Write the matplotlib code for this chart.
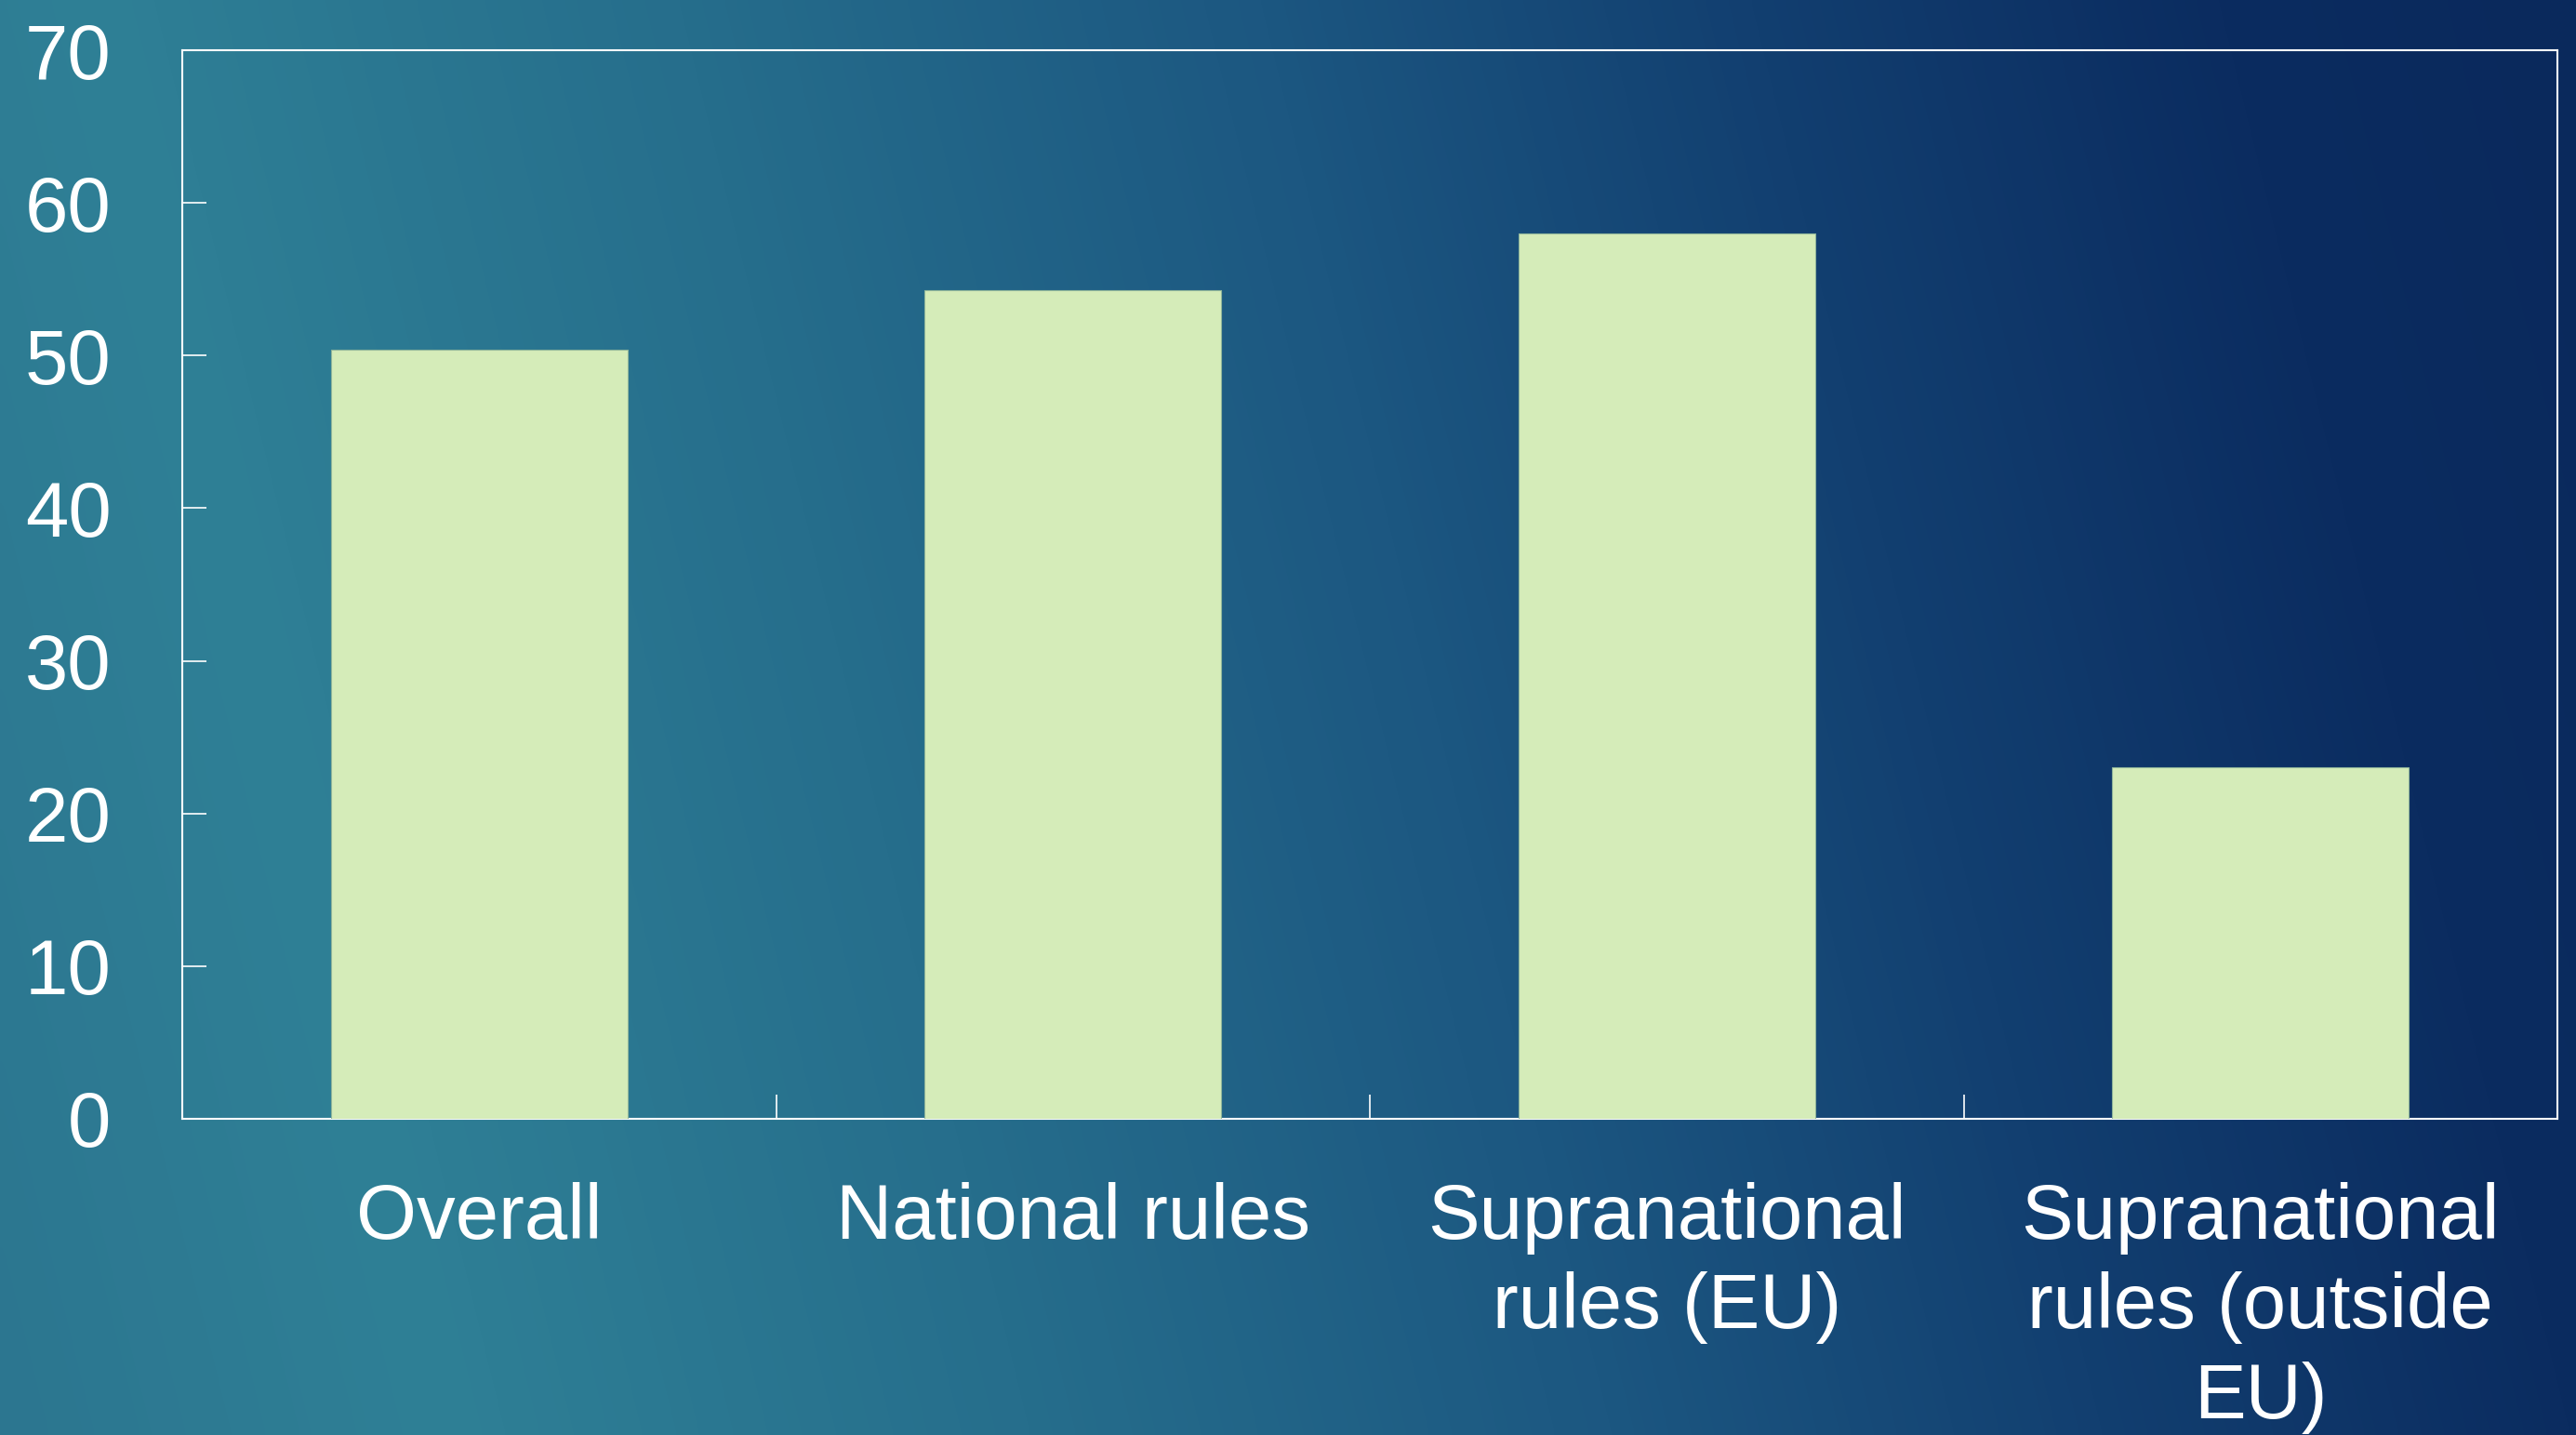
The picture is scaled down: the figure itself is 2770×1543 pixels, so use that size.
import numpy as np
import matplotlib
matplotlib.use("Agg")
import matplotlib.pyplot as plt
from matplotlib.colors import LinearSegmentedColormap

categories = ["Overall", "National rules", "Supranational\nrules (EU)",
              "Supranational\nrules (outside\nEU)"]
values = [50.4, 54.3, 58.0, 23.0]
y_ticks = [0, 10, 20, 30, 40, 50, 60, 70]

plt.rcParams["font.family"] = ["Liberation Sans", "DejaVu Sans"]

W, H, DPI = 2770, 1543, 100
fig = plt.figure(figsize=(W / DPI, H / DPI), dpi=DPI)

# background gradient: teal on the left to navy on the right
bg = fig.add_axes([0, 0, 1, 1], zorder=-10)
bg.set_axis_off()
xx, yy = np.meshgrid(np.linspace(0, 1, 400), np.linspace(0, 1, 220))
t = np.clip(0.88 * xx + 0.12 * (1 - yy), 0, 1)  # yy=0 at top (imshow origin upper)
cmap = LinearSegmentedColormap.from_list(
    "bg",
    [(0.0, "#2c7690"), (0.15, "#2f8096"), (0.35, "#266e8c"),
     (0.55, "#1c5781"), (0.72, "#123f70"), (0.88, "#0b2c60"), (1.0, "#0a295c")],
)
bg.imshow(t, cmap=cmap, aspect="auto", extent=[0, 1, 0, 1], interpolation="bicubic")
bg.set_xlim(0, 1)
bg.set_ylim(0, 1)

ax = fig.add_axes([196 / W, 1 - 1203 / H, (2750 - 196) / W, (1203 - 54) / H])
ax.patch.set_alpha(0)

x = np.arange(len(categories))
ax.bar(x, values, width=0.5, color="#d5ecb9", edgecolor="#8fb59a", linewidth=0.8, zorder=3)

ax.set_xlim(-0.5, len(categories) - 0.5)
ax.set_ylim(0, 70)
ax.set_yticks(y_ticks)
ax.set_yticklabels([str(v) for v in y_ticks])

# category labels centred, ticks at category boundaries
ax.set_xticks(x)
ax.set_xticklabels(categories, linespacing=1.3)
ax.tick_params(axis="x", which="major", length=0, pad=49, labelsize=60, colors="white")
ax.set_xticks(np.arange(0.5, len(categories) - 0.5, 1), minor=True)
ax.tick_params(axis="x", which="minor", direction="in", length=19, width=1.2, color="white")
ax.tick_params(axis="y", direction="in", length=19, width=1.2, pad=55, labelsize=60,
               colors="white")
for lbl in ax.get_yticklabels():
    lbl.set_y(lbl.get_position()[1])

for s in ax.spines.values():
    s.set_color("white")
    s.set_linewidth(1.5)

fig.savefig("out.png", dpi=DPI)
